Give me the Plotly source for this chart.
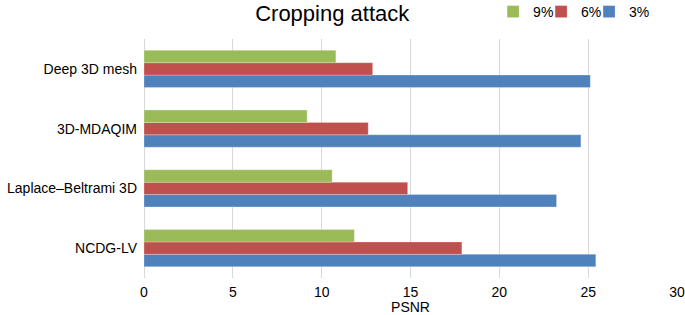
import plotly.graph_objects as go

categories = ["NCDG-LV", "Laplace\u2013Beltrami 3D", "3D-MDAQIM", "Deep 3D mesh"]
series_names = ["3%", "6%", "9%"]
vals_3 = [25.43, 23.22, 24.59, 25.12]
vals_6 = [17.89, 14.84, 12.62, 12.87]
vals_9 = [11.84, 10.59, 9.18, 10.80]
colors = ["#4F81BD", "#C0504D", "#9BBB59"]
x_ticks = [0, 5, 10, 15, 20, 25, 30]
legend_ids = ["legend4", "legend3", "legend2"]

fig = go.Figure()
for name, vals, col, lg in zip(series_names, [vals_3, vals_6, vals_9], colors, legend_ids):
    fig.add_trace(go.Bar(
        y=categories, x=vals, name=name, orientation="h", legend=lg, showlegend=True,
        marker=dict(color=col, line=dict(color="rgba(255,255,255,0.5)", width=0.5)),
    ))

font_family = "Liberation Sans, Arial, sans-serif"
legend_style = dict(orientation="h", y=1.113, xanchor="left", yanchor="middle",
                    font=dict(size=14), itemwidth=30, bgcolor="rgba(0,0,0,0)")

fig.update_layout(
    width=685, height=315,
    margin=dict(l=144, r=8, t=39, b=37, autoexpand=False),
    barmode="group", bargap=0.38, bargroupgap=0,
    paper_bgcolor="white", plot_bgcolor="white",
    font=dict(family=font_family, size=14, color="#000000"),
    title=dict(text="Cropping attack", x=0.485, xanchor="center", y=0.958, yanchor="middle",
               font=dict(size=22, family=font_family)),
    legend2=dict(x=0.655, **legend_style),
    legend3=dict(x=0.745, **legend_style),
    legend4=dict(x=0.835, **legend_style),
    xaxis=dict(range=[0, 30], tickvals=x_ticks, showgrid=True, gridcolor="#D9D9D9", gridwidth=1,
               zeroline=True, zerolinecolor="#D9D9D9", zerolinewidth=1,
               title=dict(text="PSNR", standoff=0, font=dict(size=14)),
               ticks="", tickfont=dict(size=14), ticklabelstandoff=4, automargin=False),
    yaxis=dict(showgrid=False, ticks="", ticklabelstandoff=6, tickfont=dict(size=14),
               showline=False, automargin=False),
)

fig.write_html("out.html", config={"displayModeBar": False},
               post_script="document.body.style.margin='0';")
